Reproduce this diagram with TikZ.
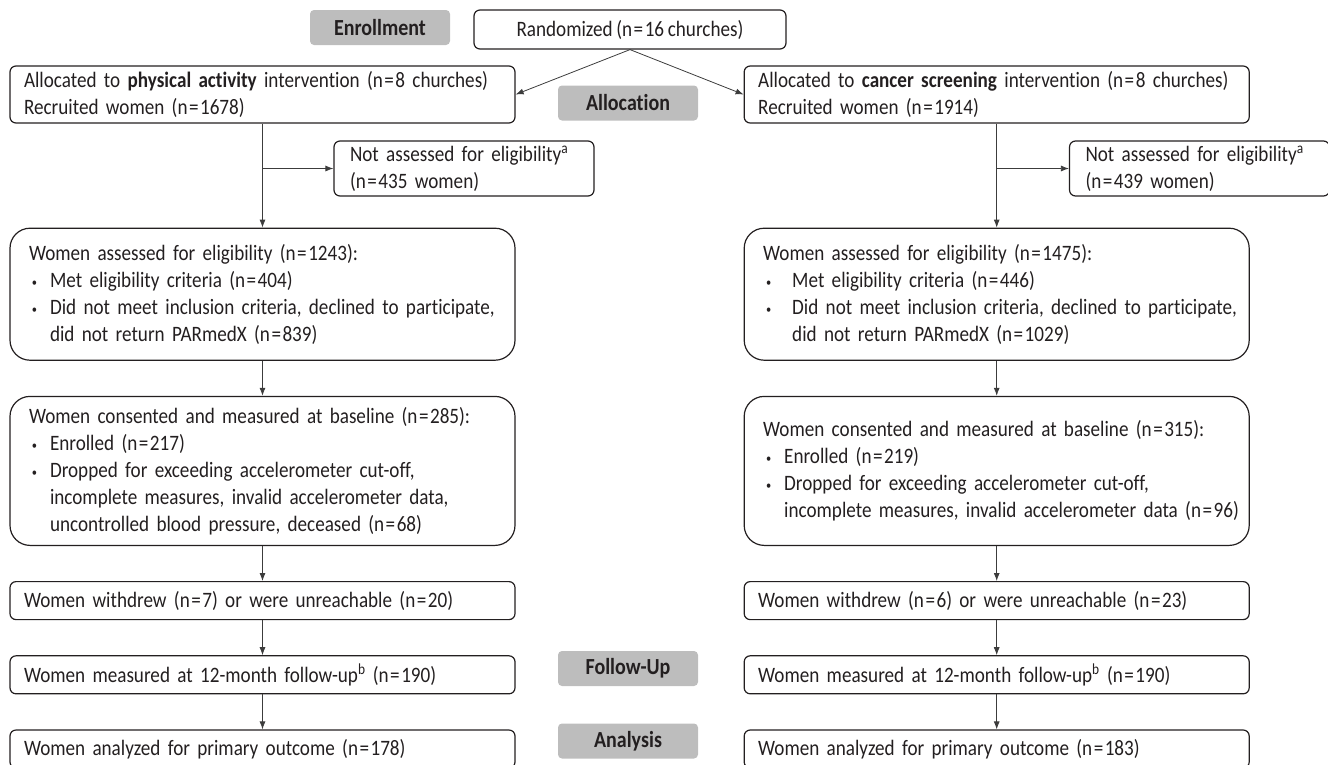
\documentclass[tikz,border=0pt]{standalone}
\usepackage{fontspec}
\setmainfont{Carlito}[FakeStretch=0.87, Ligatures=NoCommon, WordSpace=0.85]
\usepackage{tikz}
\usetikzlibrary{positioning,arrows.meta}
\usepackage{xcolor}
\definecolor{ink}{HTML}{231F20}
\definecolor{linkgray}{HTML}{3C3C3C}
\definecolor{phasegray}{HTML}{BDBDBD}
\newcommand{\flowfont}{\fontsize{22}{27}\selectfont}
\newcommand{\nval}[1]{n\kern1.5pt=\kern1.5pt#1}
\newcommand{\bitem}[2][21pt]{\mbox{\makebox[#1][l]{\hspace{3pt}\raisebox{1pt}{\fontsize{12}{12}\selectfont\textbullet}}#2}}
\newcommand{\bcont}[2][21pt]{\mbox{\hspace*{#1}#2}}

\tikzset{
  flowbox/.style={draw=ink, line width=1.2pt, rounded corners=6pt, align=left,
    text width=477pt, inner xsep=14pt, inner ysep=3pt, minimum height=38pt},
  bigbox/.style={flowbox, rounded corners=20pt, text width=467pt, inner xsep=19pt},
  nabox/.style={flowbox, text width=228pt, inner xsep=16pt, minimum height=55pt},
  phase/.style={fill=phasegray, rounded corners=4pt, minimum width=140pt,
    minimum height=35pt, font=\fontsize{23}{27}\selectfont\bfseries},
  link/.style={->, linkgray, line width=0.8pt},
}

\begin{document}
\begin{tikzpicture}[x=1pt, y=-1pt, >={Latex[length=8pt,width=6pt]},
    every node/.style={text=ink, font=\flowfont}]
        \useasboundingbox (0,0) rectangle (1328,764);
        % Phase labels
        \node (enrol) [phase] at (380,27.5) {Enrollment};
        \node (alloc) [phase] at (628,103) {Allocation};
        \node (follow) [phase] at (628,668.5) {Follow-Up};
        \node (analys) [phase] at (628,741) {Analysis};
        % Randomized node
        \node (rand) [draw=ink, line width=1.2pt, rounded corners=6pt,
            minimum width=312pt, minimum height=39pt] at (630,29.5)
            {Randomized (\nval{16} churches)};

        % Physical activity arm
        \node (allocL) [flowbox, minimum height=57pt] at (262.5,94.5)
            {Allocated to \textbf{physical activity} intervention (\nval{8} churches)\\
             Recruited women (\nval{1678})};
        \node (naL) [nabox] at (464,168.5)
            {Not assessed for eligibility\textsuperscript{a}\\(\nval{435} women)};
        \node (eligL) [bigbox, minimum height=132pt, below=104pt of allocL]
            {Women assessed for eligibility (\nval{1243}):\\
             \bitem{Met eligibility criteria (\nval{404})}\\
             \bitem{Did not meet inclusion criteria, declined to participate,}\\
             \bcont{did not return PARmedX (\nval{839})}};
        \node (consL) [bigbox, minimum height=149pt, below=35pt of eligL]
            {Women consented and measured at baseline (\nval{285}):\\
             \bitem{Enrolled (\nval{217})}\\
             \bitem{Dropped for exceeding accelerometer cut-off,}\\
             \bcont{incomplete measures, invalid accelerometer data,}\\
             \bcont{uncontrolled blood pressure, deceased (\nval{68})}};
        \node (wdL) [flowbox, below=35pt of consL]
            {Women withdrew (\nval{7}) or were unreachable (\nval{20})};
        \node (fuL) [flowbox, below=35pt of wdL]
            {Women measured at 12-month follow-up\textsuperscript{b} (\nval{190})};
        \node (anL) [flowbox, below=35pt of fuL]
            {Women analyzed for primary outcome (\nval{178})};

        % Cancer screening arm
        \node (allocR) [flowbox, minimum height=57pt, right=228pt of allocL]
            {Allocated to \textbf{cancer screening} intervention (\nval{8} churches)\\
             Recruited women (\nval{1914})};
        \node (naR) [nabox] at (1199.5,168.5)
            {Not assessed for eligibility\textsuperscript{a}\\(\nval{439} women)};
        \node (eligR) [bigbox, minimum height=132pt, below=104pt of allocR]
            {Women assessed for eligibility (\nval{1475}):\\
             \bitem[29pt]{Met eligibility criteria (\nval{446})}\\
             \bitem[29pt]{Did not meet inclusion criteria, declined to participate,}\\
             \bcont[29pt]{did not return PARmedX (\nval{1029})}};
        \node (consR) [bigbox, minimum height=149pt, below=35pt of eligR]
            {Women consented and measured at baseline (\nval{315}):\\
             \bitem{Enrolled (\nval{219})}\\
             \bitem{Dropped for exceeding accelerometer cut-off,}\\
             \bcont{incomplete measures, invalid accelerometer data (\nval{96})}};
        \node (wdR) [flowbox, below=35pt of consR]
            {Women withdrew (\nval{6}) or were unreachable (\nval{23})};
        \node (fuR) [flowbox, below=35pt of wdR]
            {Women measured at 12-month follow-up\textsuperscript{b} (\nval{190})};
        \node (anR) [flowbox, below=35pt of fuR]
            {Women analyzed for primary outcome (\nval{183})};

        % Branch points
        \coordinate (jL) at (allocL.south |- naL.west);
        \coordinate (jR) at (allocR.south |- naR.west);

        % Arrows
        \path[link] (rand.south) edge (allocL.east);
        \path[link] (rand.south) edge (allocR.west);
        \path[link] (allocL) edge (eligL);
        \path[link] (jL) edge (naL.west);
        \path[link] (eligL) edge (consL);
        \path[link] (consL) edge (wdL);
        \path[link] (wdL) edge (fuL);
        \path[link] (fuL) edge (anL);
        \path[link] (allocR) edge (eligR);
        \path[link] (jR) edge (naR.west);
        \path[link] (eligR) edge (consR);
        \path[link] (consR) edge (wdR);
        \path[link] (wdR) edge (fuR);
        \path[link] (fuR) edge (anR);
    \end{tikzpicture}
\end{document}
